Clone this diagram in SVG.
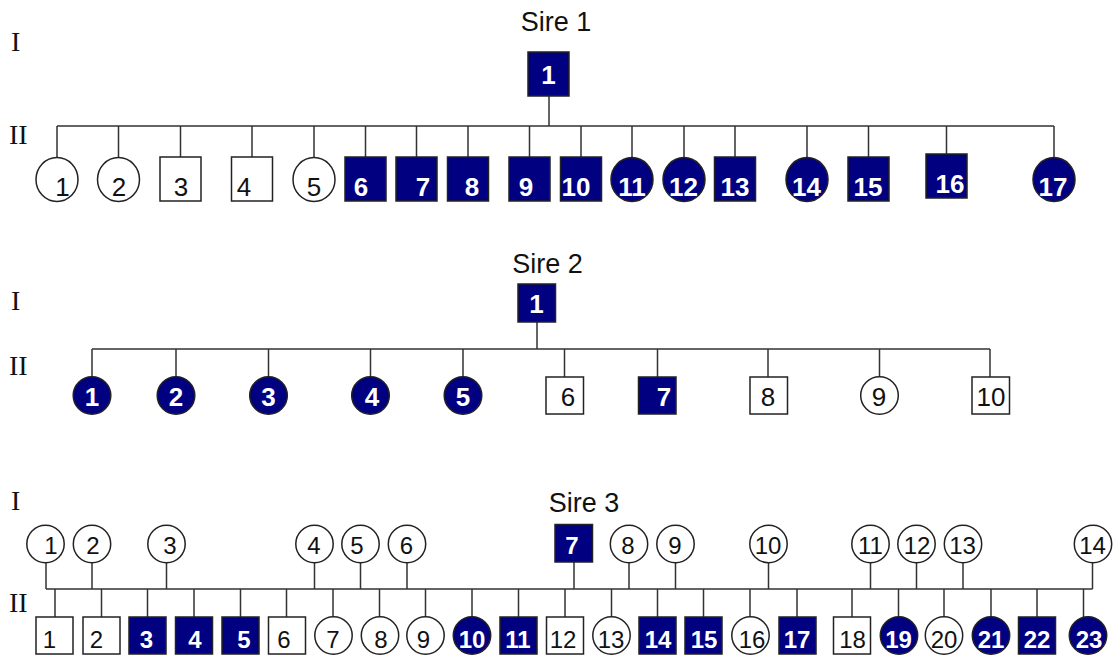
<svg xmlns="http://www.w3.org/2000/svg" width="1114" height="655" viewBox="0 0 1114 655">
  <style>
    .bg { fill: #ffffff; }
    .ln { stroke: #333333; stroke-width: 1.5; fill: none; }
    .open { fill: #ffffff; stroke: #222222; stroke-width: 1.5; }
    .aff { fill: #000080; stroke: #222222; stroke-width: 1.5; }
    .num { font-family: "Liberation Sans", Arial, sans-serif; text-anchor: middle; fill: #111111; }
    .wnum { font-family: "Liberation Sans", Arial, sans-serif; text-anchor: middle; fill: #ffffff; font-weight: bold; }
    .s1 { font-size: 26px; }
    .s2 { font-size: 26px; }
    .s3 { font-size: 24px; }
    .title { font-family: "Liberation Sans", Arial, sans-serif; font-size: 27px; text-anchor: middle; fill: #111111; }
    .gen { font-family: "Liberation Serif", "Times New Roman", serif; font-size: 28px; fill: #111111; }
  </style>
  <rect class="bg" x="0" y="0" width="1114" height="655"/>

  <!-- ===== Sire 1 ===== -->
  <g id="sire1-labels">
    <text class="title" x="556" y="31">Sire 1</text>
    <text class="gen" x="11" y="51">I</text>
    <text class="gen" x="9" y="144">II</text>
  </g>

  <g id="sire1-connectors">
    <path class="ln" d="M549 96 V126 M57 126 H1054
      M57 126 V157 M118.5 126 V157 M180.5 126 V157 M252 126 V157 M314 126 V157
      M365.5 126 V157 M416.5 126 V157 M468 126 V157 M529.5 126 V157 M581 126 V157
      M632 126 V157 M684 126 V157 M735 126 V157 M807 126 V157 M868.5 126 V157
      M946.5 126 V154 M1054 126 V157"/>
  </g>

  <g id="s1-I1"><rect class="aff" x="528" y="52" width="41" height="44"/><text class="wnum s1" x="548.5" y="84">1</text></g>

  <g id="s1-II1"><ellipse class="open" cx="57" cy="179.5" rx="21" ry="22"/><text class="num s1" x="62.5" y="196">1</text></g>
  <g id="s1-II2"><ellipse class="open" cx="118.5" cy="179.5" rx="21" ry="22"/><text class="num s1" x="119" y="196">2</text></g>
  <g id="s1-II3"><rect class="open" x="160" y="157" width="41" height="44"/><text class="num s1" x="181" y="196">3</text></g>
  <g id="s1-II4"><rect class="open" x="231.5" y="157" width="41" height="44"/><text class="num s1" x="244" y="196">4</text></g>
  <g id="s1-II5"><ellipse class="open" cx="314" cy="179.5" rx="21" ry="22"/><text class="num s1" x="314" y="196">5</text></g>
  <g id="s1-II6"><rect class="aff" x="345" y="157" width="41" height="44"/><text class="wnum s1" x="361" y="196">6</text></g>
  <g id="s1-II7"><rect class="aff" x="396" y="157" width="41" height="44"/><text class="wnum s1" x="423" y="196">7</text></g>
  <g id="s1-II8"><rect class="aff" x="447.5" y="157" width="41" height="44"/><text class="wnum s1" x="472" y="196">8</text></g>
  <g id="s1-II9"><rect class="aff" x="509" y="157" width="41" height="44"/><text class="wnum s1" x="526" y="196">9</text></g>
  <g id="s1-II10"><rect class="aff" x="560.5" y="157" width="41" height="44"/><text class="wnum s1" x="576" y="196">10</text></g>
  <g id="s1-II11"><ellipse class="aff" cx="632" cy="179.5" rx="21" ry="22"/><text class="wnum s1" x="632" y="196">11</text></g>
  <g id="s1-II12"><ellipse class="aff" cx="684" cy="179.5" rx="21" ry="22"/><text class="wnum s1" x="683.5" y="196">12</text></g>
  <g id="s1-II13"><rect class="aff" x="714.5" y="157" width="41" height="44"/><text class="wnum s1" x="735" y="196">13</text></g>
  <g id="s1-II14"><ellipse class="aff" cx="807" cy="179.5" rx="21" ry="22"/><text class="wnum s1" x="806.5" y="196">14</text></g>
  <g id="s1-II15"><rect class="aff" x="848" y="157" width="41" height="44"/><text class="wnum s1" x="868" y="196">15</text></g>
  <g id="s1-II16"><rect class="aff" x="926" y="154" width="41" height="44"/><text class="wnum s1" x="950" y="193">16</text></g>
  <g id="s1-II17"><ellipse class="aff" cx="1054" cy="179.5" rx="21" ry="22"/><text class="wnum s1" x="1053" y="196">17</text></g>

  <!-- ===== Sire 2 ===== -->
  <g id="sire2-labels">
    <text class="title" x="547.5" y="273">Sire 2</text>
    <text class="gen" x="11" y="310">I</text>
    <text class="gen" x="9" y="375">II</text>
  </g>

  <g id="sire2-connectors">
    <path class="ln" d="M537 322 V349 M92 349 H990
      M92 349 V377 M176 349 V377 M268.5 349 V377 M370.5 349 V377 M463 349 V377
      M564.5 349 V377 M657.5 349 V377 M768 349 V377 M879.5 349 V377 M990 349 V377"/>
  </g>

  <g id="s2-I1"><rect class="aff" x="518" y="284" width="37.5" height="38"/><text class="wnum s2" x="536.5" y="313">1</text></g>

  <g id="s2-II1"><circle class="aff" cx="92" cy="395.5" r="18.8"/><text class="wnum s2" x="92" y="406">1</text></g>
  <g id="s2-II2"><circle class="aff" cx="176" cy="395.5" r="18.8"/><text class="wnum s2" x="176" y="406">2</text></g>
  <g id="s2-II3"><circle class="aff" cx="268.5" cy="395.5" r="18.8"/><text class="wnum s2" x="268.5" y="406">3</text></g>
  <g id="s2-II4"><circle class="aff" cx="370.5" cy="395.5" r="18.8"/><text class="wnum s2" x="372" y="406">4</text></g>
  <g id="s2-II5"><circle class="aff" cx="463" cy="395.5" r="18.8"/><text class="wnum s2" x="463" y="406">5</text></g>
  <g id="s2-II6"><rect class="open" x="546" y="377" width="37.5" height="37"/><text class="num s2" x="568" y="406">6</text></g>
  <g id="s2-II7"><rect class="aff" x="638.5" y="377" width="37.5" height="37"/><text class="wnum s2" x="664" y="406">7</text></g>
  <g id="s2-II8"><rect class="open" x="750" y="377" width="37.5" height="37"/><text class="num s2" x="768" y="406">8</text></g>
  <g id="s2-II9"><circle class="open" cx="879.5" cy="395.5" r="18.8"/><text class="num s2" x="879" y="406">9</text></g>
  <g id="s2-II10"><rect class="open" x="972" y="377" width="37.5" height="37"/><text class="num s2" x="991" y="406">10</text></g>

  <!-- ===== Sire 3 ===== -->
  <g id="sire3-labels">
    <text class="title" x="584" y="512">Sire 3</text>
    <text class="gen" x="11" y="510">I</text>
    <text class="gen" x="9" y="612">II</text>
  </g>

  <g id="sire3-connectors">
    <path class="ln" d="M46 589 H1092.5
      M46 563 V589 M92 563 V589 M166.5 563 V589 M314.5 563 V589 M360.5 563 V589 M407 563 V589
      M574 562 V589 M629 563 V589 M675.5 563 V589 M768.5 563 V589 M870.5 563 V589
      M916.5 563 V589 M963 563 V589 M1092.5 563 V589
      M55 589 V617 M101.5 589 V617 M147.5 589 V617 M194 589 V617 M240.5 589 V617 M286.5 589 V617
      M333 589 V617 M379.5 589 V617 M425.5 589 V617 M472 589 V617 M518.5 589 V617 M565 589 V617
      M611.5 589 V617 M657.5 589 V617 M703.5 589 V617 M750 589 V617 M797 589 V617 M852 589 V617
      M898.5 589 V617 M944 589 V617 M991 589 V617 M1037 589 V617 M1083.5 589 V617"/>
  </g>

  <!-- generation I -->
  <g id="s3-I1"><circle class="open" cx="45.5" cy="544" r="18.7"/><text class="num s3" x="51" y="554">1</text></g>
  <g id="s3-I2"><circle class="open" cx="92" cy="544" r="18.7"/><text class="num s3" x="93" y="554">2</text></g>
  <g id="s3-I3"><circle class="open" cx="166.5" cy="544" r="18.7"/><text class="num s3" x="170" y="554">3</text></g>
  <g id="s3-I4"><circle class="open" cx="314.5" cy="544" r="18.7"/><text class="num s3" x="314" y="554">4</text></g>
  <g id="s3-I5"><circle class="open" cx="360.5" cy="544" r="18.7"/><text class="num s3" x="357" y="554">5</text></g>
  <g id="s3-I6"><circle class="open" cx="407" cy="544" r="18.7"/><text class="num s3" x="406.5" y="554">6</text></g>
  <g id="s3-I7"><rect class="aff" x="555" y="524.5" width="37.5" height="37.5"/><text class="wnum s3" x="572" y="554">7</text></g>
  <g id="s3-I8"><circle class="open" cx="629" cy="544" r="18.7"/><text class="num s3" x="628" y="554">8</text></g>
  <g id="s3-I9"><circle class="open" cx="675.5" cy="544" r="18.7"/><text class="num s3" x="675" y="554">9</text></g>
  <g id="s3-I10"><circle class="open" cx="768.5" cy="544" r="18.7"/><text class="num s3" x="768" y="554">10</text></g>
  <g id="s3-I11"><circle class="open" cx="870.5" cy="544" r="18.7"/><text class="num s3" x="870.5" y="554">11</text></g>
  <g id="s3-I12"><circle class="open" cx="916.5" cy="544" r="18.7"/><text class="num s3" x="917" y="554">12</text></g>
  <g id="s3-I13"><circle class="open" cx="963" cy="544" r="18.7"/><text class="num s3" x="962.5" y="554">13</text></g>
  <g id="s3-I14"><circle class="open" cx="1093" cy="544" r="18.7"/><text class="num s3" x="1092.5" y="554">14</text></g>

  <!-- generation II -->
  <g id="s3-II1"><rect class="open" x="36" y="617" width="37" height="37"/><text class="num s3" x="49.5" y="648">1</text></g>
  <g id="s3-II2"><rect class="open" x="83" y="617" width="37" height="37"/><text class="num s3" x="96.5" y="648">2</text></g>
  <g id="s3-II3"><rect class="aff" x="129" y="617" width="37" height="37"/><text class="wnum s3" x="146.5" y="648">3</text></g>
  <g id="s3-II4"><rect class="aff" x="175.5" y="617" width="37" height="37"/><text class="wnum s3" x="195" y="648">4</text></g>
  <g id="s3-II5"><rect class="aff" x="222" y="617" width="37" height="37"/><text class="wnum s3" x="244" y="648">5</text></g>
  <g id="s3-II6"><rect class="open" x="268.5" y="617" width="37" height="37"/><text class="num s3" x="284" y="648">6</text></g>
  <g id="s3-II7"><circle class="open" cx="333.5" cy="635.5" r="18.7"/><text class="num s3" x="333" y="648">7</text></g>
  <g id="s3-II8"><circle class="open" cx="380" cy="635.5" r="18.7"/><text class="num s3" x="381" y="648">8</text></g>
  <g id="s3-II9"><circle class="open" cx="425.5" cy="635.5" r="18.7"/><text class="num s3" x="423.5" y="648">9</text></g>
  <g id="s3-II10"><circle class="aff" cx="472" cy="635.5" r="18.7"/><text class="wnum s3" x="472" y="648">10</text></g>
  <g id="s3-II11"><rect class="aff" x="500" y="617" width="37" height="37"/><text class="wnum s3" x="518" y="648">11</text></g>
  <g id="s3-II12"><rect class="open" x="546.5" y="617" width="37" height="37"/><text class="num s3" x="563" y="648">12</text></g>
  <g id="s3-II13"><circle class="open" cx="611.5" cy="635.5" r="18.7"/><text class="num s3" x="611" y="648">13</text></g>
  <g id="s3-II14"><rect class="aff" x="639" y="617" width="37" height="37"/><text class="wnum s3" x="658" y="648">14</text></g>
  <g id="s3-II15"><rect class="aff" x="685" y="617" width="37" height="37"/><text class="wnum s3" x="704" y="648">15</text></g>
  <g id="s3-II16"><circle class="open" cx="750.5" cy="635.5" r="18.7"/><text class="num s3" x="752" y="648">16</text></g>
  <g id="s3-II17"><rect class="aff" x="779" y="617" width="37" height="37"/><text class="wnum s3" x="797" y="648">17</text></g>
  <g id="s3-II18"><rect class="open" x="833.5" y="617" width="37" height="37"/><text class="num s3" x="852.5" y="648">18</text></g>
  <g id="s3-II19"><circle class="aff" cx="899" cy="635.5" r="18.7"/><text class="wnum s3" x="898.5" y="648">19</text></g>
  <g id="s3-II20"><circle class="open" cx="944" cy="635.5" r="18.7"/><text class="num s3" x="944" y="648">20</text></g>
  <g id="s3-II21"><circle class="aff" cx="991" cy="635.5" r="18.7"/><text class="wnum s3" x="991" y="648">21</text></g>
  <g id="s3-II22"><rect class="aff" x="1018.5" y="617" width="37" height="37"/><text class="wnum s3" x="1037" y="648">22</text></g>
  <g id="s3-II23"><circle class="aff" cx="1088" cy="635.5" r="18.7"/><text class="wnum s3" x="1089" y="648">23</text></g>
</svg>
